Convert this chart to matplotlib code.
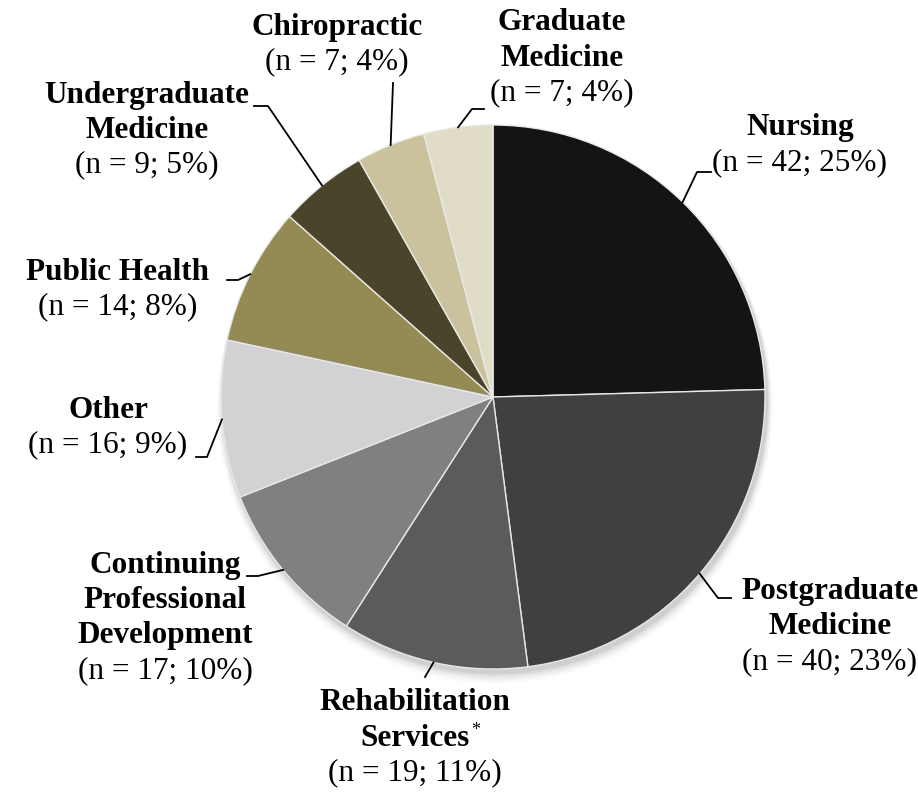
import matplotlib.pyplot as plt
import numpy as np

# ── Data ───────────────────────────────────────────────
programs = ["Nursing", "Postgraduate Medicine", "Rehabilitation Services",
            "Continuing Professional Development", "Other", "Public Health",
            "Undergraduate Medicine", "Chiropractic", "Graduate Medicine"]
counts = [42, 40, 19, 17, 16, 14, 9, 7, 7]
percents = [25, 23, 11, 10, 9, 8, 5, 4, 4]
colors = ["#141414", "#404040", "#5b5b5b", "#808080", "#d2d2d2",
          "#948a54", "#4a452a", "#c9c29c", "#e0dcc6"]

# label text lines (bold title lines, then count line)
titles = [["Nursing"], ["Postgraduate", "Medicine"], ["Rehabilitation", "Services"],
          ["Continuing", "Professional", "Development"], ["Other"], ["Public Health"],
          ["Undergraduate", "Medicine"], ["Chiropractic"], ["Graduate", "Medicine"]]

W, H = 918, 794
CX, CY, R = 493, 397, 272


def Y(py):
    return H - py


fig = plt.figure(figsize=(W / 100, H / 100), dpi=100)
ax = fig.add_axes([0, 0, 1, 1])
plt.rcParams["font.family"] = "Liberation Serif"

# soft shadow under the pie
for i, a in enumerate(np.linspace(0.05, 0.01, 6)):
    ax.add_patch(plt.Circle((CX + 2, Y(CY) - 4 - i), R + 1 + i, color="black",
                            alpha=a, lw=0, zorder=0))

wedges, _ = ax.pie(counts, colors=colors, startangle=90, counterclock=False,
                   center=(CX, Y(CY)), radius=R, frame=True,
                   wedgeprops=dict(edgecolor="#e8e8e8", linewidth=1.0))
ax.set_xlim(0, W)
ax.set_ylim(0, H)
ax.set_aspect("equal")
ax.axis("off")

# ── Label layout (pixel positions) ─────────────────────
# text block centre x, first line y; leader elbow and end points
label_x = [800, 830, 415, 165, 108, 118, 147, 337, 562]
label_y = [128, 592, 703, 566, 410, 272, 95, 27, 23]
elbows = [(697, 172), (718, 598), (425, 677), (258, 576), (207, 457),
          (238, 280), (268, 106), (393, 83), (472, 109)]
ends = [(711, 172), (731, 598), (425, 677), (247, 576), (196, 457),
        (227, 280), (254, 106), (393, 83), (484, 109)]
line_h = 35
fs = 22.5

for i, w in enumerate(wedges):
    lines = titles[i]
    y = label_y[i]
    for j, t in enumerate(lines):
        txt = ax.text(label_x[i], Y(y + j * line_h), t, ha="center", va="center",
                      fontsize=fs, fontweight="bold")
        if programs[i] == "Rehabilitation Services" and j == 1:
            ax.annotate("*", xy=(1, 1), xycoords=txt, xytext=(1, 1),
                        textcoords="offset points", fontsize=13, ha="left", va="top")
    ax.text(label_x[i], Y(y + len(lines) * line_h),
            f"(n = {counts[i]}; {percents[i]}%)", ha="center", va="center", fontsize=fs)

    mid = np.deg2rad((w.theta1 + w.theta2) / 2)
    sx = CX + R * np.cos(mid)
    sy = Y(CY) + R * np.sin(mid)
    ex, ey = elbows[i]
    fx, fy = ends[i]
    ax.plot([sx, ex, fx], [sy, Y(ey), Y(fy)], color="black", lw=1.3, zorder=5)

plt.savefig("out.png", dpi=100)
